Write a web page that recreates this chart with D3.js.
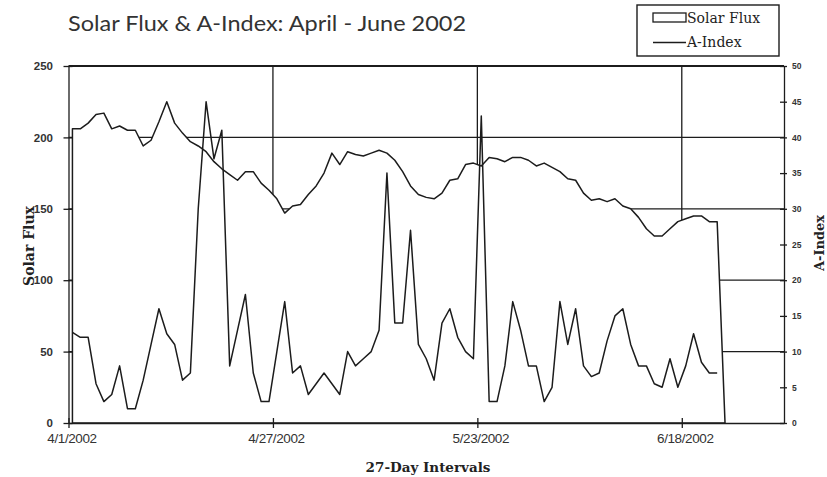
<!DOCTYPE html>
<html>
<head>
<meta charset="utf-8">
<script src="https://cdn.jsdelivr.net/npm/d3@7"></script>
<style>
	body { margin: 0; background: #fff; }
	svg { display: block; }
</style>
</head>
<body>
<svg id="chart" width="827" height="477"></svg>
<script>

const START_DATE = "4/1/2002";
const END_DATE = "7/1/2002";

// daily 10.7cm solar flux, 4/1 .. 6/23 (last day reported as 0)
const solarFlux = [
	206, 206, 210, 216, 217, 206, 208, 205, 205, 194,
	198, 211, 225, 210, 203, 197, 194, 190, 183, 178,
	174, 170, 176, 176, 168, 163, 157, 147, 152, 153,
	160, 166, 175, 189, 181, 190, 188, 187, 189, 191,
	189, 184, 176, 166, 160, 158, 157, 161, 170, 171,
	181, 182, 180, 186, 185, 183, 186, 186, 184, 180,
	182, 179, 176, 171, 170, 161, 156, 157, 155, 157,
	152, 150, 144, 136, 131, 131, 136, 141, 143, 145,
	145, 141, 141, 0
];

// daily planetary A-index, 4/1 .. 6/22
const aIndex = [
	12.7, 12, 12, 5.5, 3, 4, 8, 2, 2, 6,
	11, 16, 12.5, 11, 6, 7, 30, 45, 37, 41,
	8, 13, 18, 7, 3, 3, 10, 17, 7, 8,
	4, 5.5, 7, 5.5, 4, 10, 8, 9, 10, 13,
	35, 14, 14, 27, 11, 9, 6, 14, 16, 12,
	10, 9, 43, 3, 3, 8, 17, 13, 8, 8,
	3, 5, 17, 11, 16, 8, 6.5, 7, 11.5, 15,
	16, 11, 8, 8, 5.5, 5, 9, 5, 8, 12.5,
	8.5, 7, 7
];

const fluxTicks = [0, 50, 100, 150, 200, 250];
const aIndexTicks = [0, 5, 10, 15, 20, 25, 30, 35, 40, 45, 50];
const dateTicks = ["4/1/2002", "4/27/2002", "5/23/2002", "6/18/2002"];

const LEFT = 68.5;
const RIGHT = 784;
const TOP = 66;
const BOTTOM = 423;

const INK = "#1c1c1c";
const SANS = "'Liberation Sans', Arial, sans-serif";
const SERIF = "'DejaVu Serif', 'Liberation Serif', serif";

const parseDate = d3.utcParse("%-m/%-d/%Y");
const start = parseDate(START_DATE);

// readings are plotted at mid-day
function dayOf(i){
	return d3.utcHour.offset(d3.utcDay.offset(start, i), 12);
}

const x = d3.scaleUtc()
	.domain([start, parseDate(END_DATE)])
	.range([LEFT, RIGHT]);
const yFlux = d3.scaleLinear().domain([0, 250]).range([BOTTOM, TOP]);
const yA = d3.scaleLinear().domain([0, 50]).range([BOTTOM, TOP]);

const svg = d3.select("#chart");

svg.append("rect")
	.attr("width", 827)
	.attr("height", 477)
	.attr("fill", "#fff");

// grid first, the flux area (white) hides it
let grid = svg.append("g")
	.attr("stroke", INK)
	.attr("stroke-width", 1.3);

grid.selectAll(".hgrid")
	.data(fluxTicks.filter(v => v > 0))
	.enter()
	.append("line")
	.attr("x1", LEFT)
	.attr("x2", RIGHT)
	.attr("y1", d => yFlux(d))
	.attr("y2", d => yFlux(d))
	.attr("stroke-width", d => d == 250 ? 2 : 1.3);

grid.selectAll(".vgrid")
	.data(dateTicks.slice(1))
	.enter()
	.append("line")
	.attr("x1", d => x(parseDate(d)))
	.attr("x2", d => x(parseDate(d)))
	.attr("y1", TOP)
	.attr("y2", BOTTOM);

const fluxArea = d3.area()
	.x((d, i) => x(dayOf(i)))
	.y0(yFlux(0))
	.y1(d => yFlux(d));

svg.append("path")
	.datum(solarFlux)
	.attr("d", fluxArea)
	.attr("fill", "#fff")
	.attr("stroke", INK)
	.attr("stroke-width", 1.5)
	.attr("stroke-linejoin", "round");

const aLine = d3.line()
	.x((d, i) => x(dayOf(i)))
	.y(d => yA(d));

svg.append("path")
	.datum(aIndex)
	.attr("d", aLine)
	.attr("fill", "none")
	.attr("stroke", INK)
	.attr("stroke-width", 1.5)
	.attr("stroke-linejoin", "round");

// axes
let leftAxis = svg.append("g")
	.attr("transform", "translate(" + LEFT + ",0)")
	.call(d3.axisLeft(yFlux).tickValues(fluxTicks).tickSize(5).tickSizeOuter(0).tickPadding(10.5));
leftAxis.selectAll(".tick line").attr("x1", 4);
leftAxis.selectAll(".tick text")
	.attr("font-family", SANS)
	.attr("font-size", 11.5)
	.attr("font-weight", "bold")
	.attr("fill", "#333");

let rightAxis = svg.append("g")
	.attr("transform", "translate(" + RIGHT + ",0)")
	.call(d3.axisRight(yA).tickValues(aIndexTicks).tickSize(3).tickSizeOuter(0).tickPadding(5));
rightAxis.selectAll(".tick line").attr("x1", -4);
rightAxis.selectAll(".tick text")
	.attr("font-family", SANS)
	.attr("font-size", 8.5)
	.attr("font-weight", "bold")
	.attr("fill", "#333");

let bottomAxis = svg.append("g")
	.attr("transform", "translate(0," + BOTTOM + ")")
	.call(d3.axisBottom(x)
		.tickValues(dateTicks.map(parseDate))
		.tickFormat(d3.utcFormat("%-m/%-d/%Y"))
		.tickSize(5).tickSizeOuter(0).tickPadding(5));
bottomAxis.selectAll(".tick line").attr("y1", -5);
bottomAxis.selectAll(".tick text")
	.attr("dx", 3)
	.attr("font-family", SANS)
	.attr("font-size", 13.5)
	.attr("letter-spacing", -0.4)
	.attr("fill", "#333");

[leftAxis, rightAxis, bottomAxis].forEach(a => {
	a.selectAll("path, line").attr("stroke", INK).attr("stroke-width", 1.3);
	a.attr("font-family", null).attr("font-size", null);
});

// titles
svg.append("text")
	.attr("x", 68)
	.attr("y", 31)
	.attr("font-family", "Lato, 'Open Sans', sans-serif")
	.attr("font-size", 21)
	.attr("textLength", 398)
	.attr("lengthAdjust", "spacingAndGlyphs")
	.attr("fill", "#333")
	.text("Solar Flux & A-Index: April - June 2002");

svg.append("text")
	.attr("transform", "translate(34,246) rotate(-90)")
	.attr("text-anchor", "middle")
	.attr("font-family", SERIF)
	.attr("font-size", 14)
	.attr("font-weight", "bold")
	.attr("fill", "#222")
	.text("Solar Flux");

svg.append("text")
	.attr("transform", "translate(824,243) rotate(-90)")
	.attr("text-anchor", "middle")
	.attr("font-family", SERIF)
	.attr("font-size", 13)
	.attr("font-weight", "bold")
	.attr("fill", "#222")
	.text("A-Index");

svg.append("text")
	.attr("x", 428)
	.attr("y", 472)
	.attr("text-anchor", "middle")
	.attr("font-family", SERIF)
	.attr("font-size", 13.5)
	.attr("font-weight", "bold")
	.attr("fill", "#222")
	.text("27-Day Intervals");

// legend
let legend = svg.append("g");
legend.append("rect")
	.attr("x", 637).attr("y", 5)
	.attr("width", 142).attr("height", 51)
	.attr("fill", "#fff")
	.attr("stroke", INK)
	.attr("stroke-width", 1.4);
legend.append("rect")
	.attr("x", 653).attr("y", 13)
	.attr("width", 33).attr("height", 9)
	.attr("fill", "#fff")
	.attr("stroke", INK)
	.attr("stroke-width", 1.3);
legend.append("line")
	.attr("x1", 653).attr("x2", 686)
	.attr("y1", 42.5).attr("y2", 42.5)
	.attr("stroke", INK)
	.attr("stroke-width", 1.5);
legend.append("text")
	.attr("x", 687).attr("y", 22.5)
	.attr("font-family", SERIF)
	.attr("font-size", 14)
	.attr("fill", "#222")
	.text("Solar Flux");
legend.append("text")
	.attr("x", 687).attr("y", 47)
	.attr("font-family", SERIF)
	.attr("font-size", 14)
	.attr("fill", "#222")
	.text("A-Index");

</script>
</body>
</html>
